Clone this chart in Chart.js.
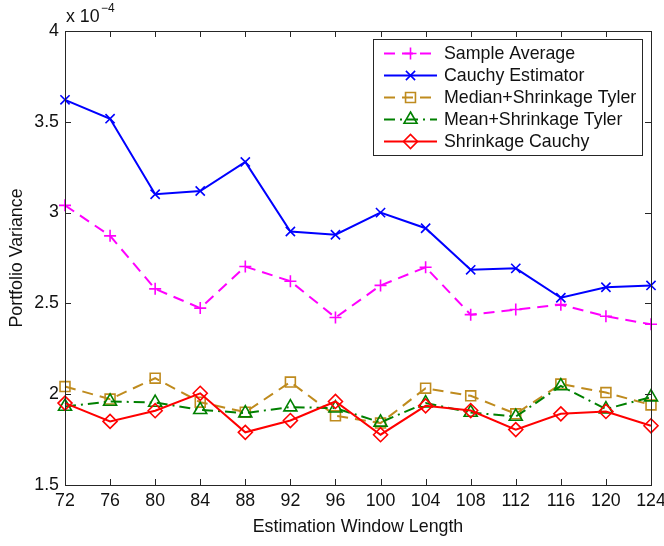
<!DOCTYPE html>
<html>
<head>
<meta charset="utf-8">
<script src="https://cdn.jsdelivr.net/npm/chart.js@4.4.1/dist/chart.umd.min.js"></script>
<style>
  html, body { margin: 0; padding: 0; background: #fff; }
  #wrap { width: 664px; height: 546px; position: relative; }
</style>
</head>
<body>
<div id="wrap"><canvas id="varChart"></canvas></div>
<script>
// --- data (portfolio variance, in units of 1e-4) ---
const windowLengths = [72, 76, 80, 84, 88, 92, 96, 100, 104, 108, 112, 116, 120, 124];
const xTicks = [72, 76, 80, 84, 88, 92, 96, 100, 104, 108, 112, 116, 120, 124];
const yTicks = [1.5, 2, 2.5, 3, 3.5, 4];

const sampleAverage = [3.04, 2.872, 2.58, 2.474, 2.703, 2.622, 2.422, 2.599, 2.699, 2.438, 2.466, 2.493, 2.429, 2.385];
const cauchyEstimator = [3.621, 3.517, 3.101, 3.119, 3.279, 2.896, 2.878, 3.0, 2.914, 2.685, 2.693, 2.531, 2.589, 2.599];
const medianShrinkTyler = [2.042, 1.973, 2.088, 1.956, 1.901, 2.067, 1.881, 1.841, 2.033, 1.991, 1.892, 2.056, 2.009, 1.941];
const meanShrinkTyler = [1.932, 1.96, 1.954, 1.914, 1.896, 1.929, 1.923, 1.845, 1.951, 1.899, 1.877, 2.045, 1.918, 1.984];
const shrinkageCauchy = [1.951, 1.85, 1.909, 2.005, 1.79, 1.855, 1.96, 1.777, 1.936, 1.91, 1.805, 1.892, 1.905, 1.826];

const FONT = "'Liberation Sans', Arial, Helvetica, sans-serif";
const FONT_SIZE = 17.8;
const AXIS_COLOR = '#262626';

function toPoints(values) {
    return values.map(function (v, i) { return { x: windowLengths[i], y: v }; });
}

function series(label, values, color, dash, style, radius, order) {
    return {
        label: label,
        data: toPoints(values),
        borderColor: color,
        borderWidth: 2,
        borderDash: dash,
        pointStyle: style,
        pointRadius: radius,
        pointBorderColor: color,
        pointBackgroundColor: 'rgba(0,0,0,0)',
        pointBorderWidth: 1.6,
        tension: 0,
        fill: false,
        clip: false,
        order: order
    };
}

// frame, inward ticks, exponent label and MATLAB-like legend
const matlabFrame = {
    id: 'matlabFrame',
    afterDraw: function (chart) {
        const ctx = chart.ctx;
        const a = chart.chartArea;
        const xs = chart.scales.x, ys = chart.scales.y;
        ctx.save();
        ctx.strokeStyle = AXIS_COLOR;
        ctx.lineWidth = 1;
        ctx.setLineDash([]);
        ctx.strokeRect(Math.round(a.left) + 0.5, Math.round(a.top) + 0.5,
            Math.round(a.right - a.left), Math.round(a.bottom - a.top));
        ctx.beginPath();
        xTicks.forEach(function (t) {
            const px = Math.round(xs.getPixelForValue(t)) + 0.5;
            ctx.moveTo(px, a.bottom); ctx.lineTo(px, a.bottom - 6);
            ctx.moveTo(px, a.top); ctx.lineTo(px, a.top + 6);
        });
        yTicks.forEach(function (t) {
            const py = Math.round(ys.getPixelForValue(t)) + 0.5;
            ctx.moveTo(a.left, py); ctx.lineTo(a.left + 6, py);
            ctx.moveTo(a.right, py); ctx.lineTo(a.right - 6, py);
        });
        ctx.stroke();

        // exponent
        ctx.fillStyle = '#111';
        ctx.textBaseline = 'alphabetic';
        ctx.textAlign = 'left';
        ctx.font = FONT_SIZE + 'px ' + FONT;
        ctx.fillText('x 10', 66, 22);
        ctx.font = '12px ' + FONT;
        ctx.fillText('\u22124', 101, 12);

        // legend box
        const box = { left: 373, top: 39, right: 642, bottom: 155 };
        ctx.fillStyle = '#fff';
        ctx.fillRect(box.left, box.top, box.right - box.left, box.bottom - box.top);
        ctx.strokeStyle = AXIS_COLOR;
        ctx.strokeRect(box.left + 0.5, box.top + 0.5, box.right - box.left, box.bottom - box.top);

        chart.data.datasets.forEach(function (ds, i) {
            const cy = 53.5 + i * 22;
            ctx.strokeStyle = ds.borderColor;
            ctx.lineWidth = ds.borderWidth;
            ctx.setLineDash(ds.borderDash || []);
            ctx.beginPath();
            ctx.moveTo(384, cy); ctx.lineTo(437, cy);
            ctx.stroke();
            ctx.setLineDash([]);
            ctx.lineWidth = ds.pointBorderWidth;
            ctx.fillStyle = 'rgba(0,0,0,0)';
            Chart.helpers.drawPoint(ctx, { pointStyle: ds.pointStyle, radius: ds.pointRadius, rotation: 0, borderWidth: ds.pointBorderWidth }, 410.5, cy);
            ctx.fillStyle = '#111';
            ctx.font = FONT_SIZE + 'px ' + FONT;
            ctx.textBaseline = 'middle';
            ctx.fillText(ds.label, 444, cy + 1);
        });
        ctx.restore();
    }
};

document.addEventListener("DOMContentLoaded", function () {
    const canvas = document.getElementById('varChart');
    const ctx = canvas.getContext('2d');
    window.varChart = new Chart(ctx, {
        type: 'line',
        data: {
            datasets: [
                series('Sample Average', sampleAverage, '#ff00ff', [11, 7], 'cross', 6, 5),
                series('Cauchy Estimator', cauchyEstimator, '#0000ff', [], 'crossRot', 6.5, 4),
                series('Median+Shrinkage Tyler', medianShrinkTyler, '#bf8b1e', [11, 7], 'rect', 7, 3),
                series('Mean+Shrinkage Tyler', meanShrinkTyler, '#008000', [11, 5, 2, 5], 'triangle', 7.5, 2),
                series('Shrinkage Cauchy', shrinkageCauchy, '#ff0000', [], 'rectRot', 7, 1)
            ]
        },
        options: {
            responsive: true,
            maintainAspectRatio: false,
            animation: false,
            events: [],
            layout: { padding: { left: 0, right: 13, top: 31, bottom: 0 } },
            plugins: {
                legend: { display: false },
                tooltip: { enabled: false }
            },
            scales: {
                x: {
                    type: 'linear',
                    min: 72,
                    max: 124,
                    afterBuildTicks: function (scale) {
                        scale.ticks = xTicks.map(function (v) { return { value: v }; });
                    },
                    afterFit: function (scale) {
                        scale.height = 61;
                        scale.paddingLeft = 0;
                        scale.paddingRight = 0;
                    },
                    grid: { display: false, drawTicks: false },
                    border: { display: false },
                    ticks: {
                        padding: 5,
                        color: '#111',
                        maxRotation: 0,
                        autoSkip: false,
                        font: { size: FONT_SIZE, family: FONT }
                    },
                    title: {
                        display: true,
                        text: 'Estimation Window Length',
                        color: '#111',
                        font: { size: FONT_SIZE, family: FONT },
                        padding: { top: 0, bottom: 8 }
                    }
                },
                y: {
                    type: 'linear',
                    min: 1.5,
                    max: 4,
                    afterBuildTicks: function (scale) {
                        scale.ticks = yTicks.map(function (v) { return { value: v }; });
                    },
                    afterFit: function (scale) {
                        scale.width = 65;
                        scale.paddingTop = 0;
                        scale.paddingBottom = 0;
                    },
                    grid: { display: false, drawTicks: false },
                    border: { display: false },
                    ticks: {
                        padding: 6,
                        color: '#111',
                        font: { size: FONT_SIZE, family: FONT },
                        callback: function (value) { return String(value); }
                    },
                    title: {
                        display: true,
                        text: 'Portfolio Variance',
                        color: '#111',
                        font: { size: FONT_SIZE, family: FONT },
                        padding: { top: 6, bottom: 0 }
                    }
                }
            }
        },
        plugins: [matlabFrame]
    });
});
</script>
</body>
</html>
